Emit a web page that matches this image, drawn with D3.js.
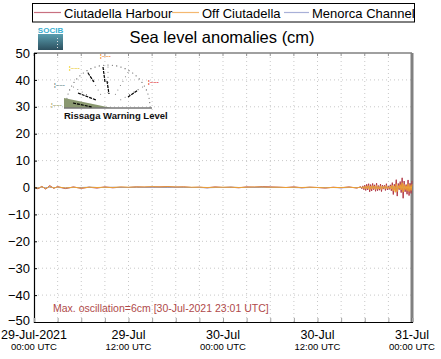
<!DOCTYPE html>
<html><head><meta charset="utf-8">
<script src="https://cdn.jsdelivr.net/npm/d3@7"></script>
<style>body{margin:0;background:#fff}svg{display:block;font-family:"Liberation Sans",Arial,sans-serif}</style>
</head><body><svg id="c" width="441" height="359"></svg>
<script>
// ---- data ----
const seriesNames = ["Ciutadella Harbour", "Off Ciutadella", "Menorca Channel"];
const seriesColors = ["#b23a48", "#f0a030", "#8a96c8"];
const legendColors = ["#c87080", "#f4b870", "#a8b0d8"];
// hours since 29-Jul-2021 00:00 UTC
const hours = [0,0.5,1,1.5,2,2.5,3,4,5,6,7,8,9,10,11,12,13,14,15,16,17,18,19,20,21,22,23,24,25,26,27,28,29,30,31,32,33,34,35,36,37,38,39,40,41,
  41.5,41.625,41.75,41.875,42,42.125,42.25,42.375,42.5,42.625,42.75,42.875,43,43.125,43.25,43.375,
  43.5,43.625,43.75,43.875,44,44.125,44.25,44.375,44.5,44.625,44.75,44.875,45,45.125,45.25,45.375,
  45.5,45.625,45.75,45.875,46,46.125,46.25,46.375,46.5,46.625,46.75,46.875,47,47.125,47.25,47.375,
  47.5,47.625,47.75,47.875,48];
const harbour = [0.3,-0.5,0.4,-0.6,0.7,-0.3,0.3,-0.4,0.2,-0.3,0.1,-0.2,0.2,-0.1,0.1,0.0,0.2,0.1,0.2,0.2,0.3,0.1,0.2,0.0,0.1,-0.1,0.2,0.0,0.1,-0.1,0.2,0.1,0.3,0.2,0.1,0.0,0.2,-0.1,0.1,0.0,-0.2,0.1,-0.1,0.2,-0.2,
  0.3,-0.5,0.6,-0.8,0.9,-1.1,1.2,-0.9,
  1.4,-1.6,1.1,-1.3,1.5,-0.8,1.0,-1.4,
  1.6,-1.2,0.7,-1.0,1.3,-1.5,0.9,-0.6,
  0.8,-1.1,1.4,-0.9,0.5,-0.7,1.0,-1.2,
  1.8,-2.6,1.2,-1.0,2.9,-3.2,1.5,-0.8,
  2.2,-1.9,3.6,-4.0,2.4,-1.6,1.1,-2.5,
  2.8,-3.0,1.6,-2.2,2.5];
const offCiutadella = [0.2,-0.3,0.3,-0.4,0.4,-0.2,0.2,-0.2,0.1,-0.2,0.1,0.0,0.1,0.0,0.2,0.1,0.2,0.2,0.3,0.2,0.3,0.2,0.2,0.1,0.1,0.0,0.1,0.1,0.1,0.0,0.1,0.2,0.2,0.1,0.1,0.0,0.1,0.0,0.1,0.0,-0.1,0.0,0.0,0.1,-0.1,
  0.1,-0.2,0.3,-0.4,0.4,-0.5,0.6,-0.4,
  0.7,-0.8,0.5,-0.6,0.7,-0.4,0.5,-0.7,
  0.8,-0.6,0.3,-0.5,0.6,-0.7,0.4,-0.3,
  0.4,-0.5,0.7,-0.4,0.2,-0.3,0.5,-0.6,
  0.9,-1.2,0.6,-1.8,1.4,-1.5,0.7,-0.4,
  1.1,-0.9,1.8,-1.7,1.2,-0.8,0.6,-1.2,
  1.4,-1.5,0.8,-1.1,1.2];
const menorcaChannel = [0.0,-0.1,0.1,-0.1,0.1,0.0,0.0,-0.1,0.0,0.0,0.1,0.0,0.0,0.1,0.0,0.0,0.1,0.0,0.1,0.0,0.0,0.1,0.0,0.0,0.0,-0.1,0.0,0.0,0.1,0.0,0.0,0.0,0.1,0.0,0.0,0.0,0.0,-0.1,0.0,0.0,0.0,0.0,-0.1,0.0,0.0,
  0.0,-0.1,0.1,-0.1,0.1,-0.1,0.2,-0.1,
  0.2,-0.2,0.1,-0.1,0.2,-0.1,0.1,-0.2,
  0.2,-0.1,0.1,-0.1,0.2,-0.2,0.1,-0.1,
  0.1,-0.1,0.2,-0.1,0.1,-0.1,0.1,-0.2,
  0.2,-0.3,0.2,-0.3,0.3,-0.3,0.2,-0.1,
  0.3,-0.2,0.3,-0.3,0.2,-0.2,0.1,-0.2,
  0.3,-0.3,0.2,-0.2,0.2];
const yTicks = [-50,-40,-30,-20,-10,0,10,20,30,40,50];
const xTickHours = [0,12,24,36,48];
const xDateLabels = ["29-Jul-2021","29-Jul","30-Jul","30-Jul","31-Jul"];
const xTimeLabels = ["00:00 UTC","12:00 UTC","00:00 UTC","12:00 UTC","00:00 UTC"];
const title = "Sea level anomalies (cm)";
const noteText = "Max. oscillation=6cm [30-Jul-2021 23:01 UTC]";

// ---- chart ----
const svg = d3.select("#c");
const L = 34, R = 412, T = 53, B = 322;
const x = d3.scaleLinear().domain([0,48]).range([L,R]);
const y = d3.scaleLinear().domain([-50,50]).range([B,T]);

// grid
const gridH = d3.range(0,49,3);
svg.append("g").selectAll("line").data(gridH.slice(1,-1)).join("line")
  .attr("x1",d=>x(d)).attr("x2",d=>x(d)).attr("y1",T).attr("y2",B)
  .attr("stroke","#c8c8c8").attr("stroke-dasharray","1,3");
svg.append("g").selectAll("line").data(yTicks.slice(1,-1)).join("line")
  .attr("x1",L).attr("x2",R).attr("y1",d=>y(d)).attr("y2",d=>y(d))
  .attr("stroke","#c8c8c8").attr("stroke-dasharray","1,3");

// top border with ticks
svg.append("line").attr("x1",L).attr("x2",R).attr("y1",T).attr("y2",T).attr("stroke","#808080").attr("stroke-width",1.5);
svg.append("g").selectAll("line").data(gridH).join("line")
  .attr("x1",d=>x(d)).attr("x2",d=>x(d)).attr("y1",T).attr("y2",T+3).attr("stroke","#909090");
// right border
svg.append("line").attr("x1",R).attr("x2",R).attr("y1",T).attr("y2",B).attr("stroke","#808080").attr("stroke-width",3);

// series
const line = d3.line().x((d,i)=>x(hours[i])).y(d=>y(d));
svg.append("path").datum(harbour).attr("d",line).attr("fill","none").attr("stroke",seriesColors[0]).attr("stroke-width",1);
svg.append("path").datum(menorcaChannel).attr("d",line).attr("fill","none").attr("stroke",seriesColors[2]).attr("stroke-width",1);
svg.append("path").datum(offCiutadella).attr("d",line).attr("fill","none").attr("stroke",seriesColors[1]).attr("stroke-width",1);

// axes
const yAxis = d3.axisLeft(y).tickValues(yTicks).tickSize(-3).tickPadding(4).tickFormat(d3.format("d"));
const gy = svg.append("g").attr("transform",`translate(${L},0)`).call(yAxis);
gy.select(".domain").attr("stroke","#000").attr("stroke-width",1.2);
gy.selectAll(".tick line").attr("stroke","#000");
gy.selectAll("text").attr("font-size",13).attr("fill","#000").attr("font-family","Liberation Sans, Arial, sans-serif");
gy.selectAll(".tick").filter(d=>d===-50).select("text").attr("dy","0.2em");

const xAxis = d3.axisBottom(x).tickValues(gridH).tickSize(-4).tickFormat("");
const gx = svg.append("g").attr("transform",`translate(0,${B})`).call(xAxis);
gx.select(".domain").attr("stroke","#000").attr("stroke-width",1.2);
gx.selectAll(".tick line").attr("stroke","#a0a0a0");
const xl = svg.append("g");
xTickHours.forEach((h,i)=>{
  xl.append("text").attr("x",x(h)).attr("y",339).attr("text-anchor","middle").attr("font-size",12.5).text(xDateLabels[i]);
  xl.append("text").attr("x",x(h)).attr("y",350).attr("text-anchor","middle").attr("font-size",9.5).text(xTimeLabels[i]);
});

// title
svg.append("text").attr("x",222).attr("y",43).attr("text-anchor","middle").attr("font-size",16.5).text(title);

// note
svg.append("text").attr("x",53).attr("y",312).attr("font-size",10.5).attr("fill","#b04a4a").text(noteText);

// legend
svg.append("rect").attr("x",32.5).attr("y",3.5).attr("width",382).attr("height",18.5).attr("fill","#fff").attr("stroke","#000");
const legX = [[34,61,64],[172,199,202],[284,309,312]];
seriesNames.forEach((n,i)=>{
  svg.append("line").attr("x1",legX[i][0]).attr("x2",legX[i][1]).attr("y1",12.5).attr("y2",12.5).attr("stroke",legendColors[i]).attr("stroke-width",1.2);
  svg.append("text").attr("x",legX[i][2]).attr("y",17.5).attr("font-size",13).text(n);
});

// SOCIB logo
const defs = svg.append("defs");
const gr = defs.append("linearGradient").attr("id","lg").attr("x1",0).attr("y1",0).attr("x2",0).attr("y2",1);
gr.append("stop").attr("offset","0%").attr("stop-color","#5a9fb0");
gr.append("stop").attr("offset","100%").attr("stop-color","#2c4f5e");
svg.append("rect").attr("x",38).attr("y",34).attr("width",25).attr("height",16).attr("fill","url(#lg)");
svg.append("text").attr("x",50.5).attr("y",33).attr("text-anchor","middle").attr("font-size",8).attr("fill","#3aaed0").attr("font-weight","bold").text("SOCIB");
[38,41,44,47].forEach(v=>svg.append("rect").attr("x",57).attr("y",v).attr("width",1).attr("height",1).attr("fill","#ddd"));

// rissaga gauge inset
const g = svg.append("g");
const cx = 108, cy = 107, r = 42;
const arc = d3.range(0,181,6).map(a=>[cx - r*Math.cos(a*Math.PI/180), cy - r*Math.sin(a*Math.PI/180)]);
g.selectAll("circle.a").data(arc).join("circle").attr("cx",d=>d[0]).attr("cy",d=>d[1]).attr("r",0.6).attr("fill","#555");
[30,60,90,120,150].forEach(a=>{
  d3.range(0.35,1.0,0.12).forEach(f=>{
    g.append("circle").attr("cx",cx - r*f*Math.cos(a*Math.PI/180)).attr("cy",cy - r*f*Math.sin(a*Math.PI/180)).attr("r",0.5).attr("fill","#666");
  });
});
g.append("path").attr("d",`M64,98 L64,108 L112,108 Z`).attr("fill","#8a9870");
g.append("line").attr("x1",64).attr("x2",152).attr("y1",108).attr("y2",108).attr("stroke","#777").attr("stroke-width",1.5);
const needles = [[73,103,92,107],[78,93,96,100],[88,73,94,82],[103,67,105,82],[107,81,109,94],[128,97,138,90]];
needles.forEach(n=>g.append("line").attr("x1",n[0]).attr("y1",n[1]).attr("x2",n[2]).attr("y2",n[3]).attr("stroke","#000").attr("stroke-width",1.2).attr("stroke-dasharray","3,1"));
const lbl = [[100,58,"#f08020"],[69,70,"#e8c820"],[54,87,"#5a8080"],[51,107,"#9aa060"],[148,84,"#e02020"]];
lbl.forEach(l=>g.append("text").attr("x",l[0]).attr("y",l[1]).attr("font-size",6).attr("font-weight","bold").attr("fill",l[2]).text("¦~~-"));
g.append("text").attr("x",64).attr("y",119).attr("font-size",9.5).attr("font-weight","bold").attr("fill","#111").text("Rissaga Warning Level");
</script></body></html>
